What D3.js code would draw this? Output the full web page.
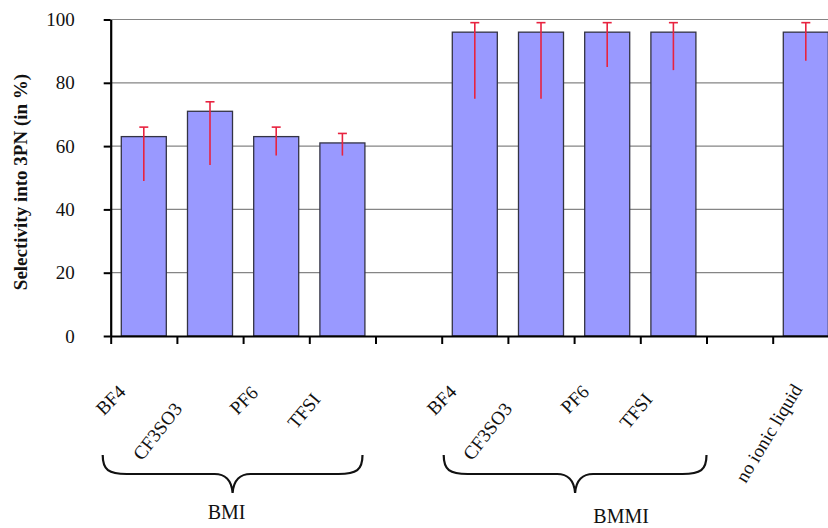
<!DOCTYPE html>
<html>
<head>
<meta charset="utf-8">
<script src="https://cdn.jsdelivr.net/npm/d3@7"></script>
<style>
	body { margin: 0; background: #fff; }
	svg { display: block; font-family: 'Liberation Serif', 'Times New Roman', serif; }
</style>
</head>
<body>
<div class="chart"></div>
<script>
// catégories (les vides séparent les groupes)
const categories = ['BMI-BF4', 'BMI-CF3SO3', 'BMI-PF6', 'BMI-TFSI', 'gap1', 'BMMI-BF4', 'BMMI-CF3SO3', 'BMMI-PF6', 'BMMI-TFSI', 'gap2', 'none'];
const tickLabels = ['BF4', 'CF3SO3', 'PF6', 'TFSI', '', 'BF4', 'CF3SO3', 'PF6', 'TFSI', '', 'no ionic liquid'];
const selectivity = [63, 71, 63, 61, null, 96, 96, 96, 96, null, 96];
const errHigh = [66, 74, 66, 64, null, 99, 99, 99, 99, null, 99];
const errLow = [49, 54, 57, 57, null, 75, 75, 85, 84, null, 87];
const yTicks = [0, 20, 40, 60, 80, 100];
const groups = [
	{ name: 'BMI', first: 'BMI-BF4', last: 'BMI-TFSI' },
	{ name: 'BMMI', first: 'BMMI-BF4', last: 'BMMI-TFSI' },
];

const width = 828;
const height = 528;
const plotLeft = 110.7;
const step = 66.2;
const plotTop = 19.5;
const plotBottom = 336;

// rotation / décalage des étiquettes (placées à la main dans l'original)
const labelAngle = [45, 52, 45, 50, 0, 45, 52, 45, 50, 0, 59];
const labelDx = [-17, -27, -17, -21, 0, -17, -28, -17, -20, 0, -3];
const labelDy = [57, 73, 58, 64, 0, 57, 73, 57, 64, 0, 53];

const svg = d3.select('.chart').append('svg').attr('width', width).attr('height', height);

const x = d3
	.scaleBand()
	.domain(categories)
	.range([plotLeft, plotLeft + step * categories.length])
	.paddingInner(0.32)
	.paddingOuter(0.16);
const xIdx = d3.scaleLinear().domain([0, categories.length]).range([plotLeft, plotLeft + step * categories.length]);
const y = d3.scaleLinear().domain([0, 100]).range([plotBottom, plotTop]);

// grille
svg
	.append('g')
	.selectAll('line')
	.data(yTicks.filter(d => d > 0))
	.enter()
	.append('line')
	.attr('x1', plotLeft)
	.attr('x2', width)
	.attr('y1', d => y(d))
	.attr('y2', d => y(d))
	.attr('stroke', '#858585')
	.attr('stroke-width', 1.2);

const data = categories.map((c, i) => ({ id: c, v: selectivity[i], hi: errHigh[i], lo: errLow[i] })).filter(d => d.v != null);

svg
	.append('g')
	.selectAll('rect')
	.data(data)
	.enter()
	.append('rect')
	.attr('x', d => x(d.id))
	.attr('y', d => y(d.v))
	.attr('width', x.bandwidth())
	.attr('height', d => y(0) - y(d.v))
	.attr('fill', '#9999ff')
	.attr('stroke', '#333344')
	.attr('stroke-width', 1.3);

// barres d'erreur
const err = svg.append('g').attr('stroke', '#e8233f').attr('stroke-width', 1.6);
data.forEach(d => {
	const cx = x(d.id) + x.bandwidth() / 2;
	err.append('line').attr('x1', cx).attr('x2', cx).attr('y1', y(d.hi)).attr('y2', y(d.lo));
	err.append('line').attr('x1', cx - 4.5).attr('x2', cx + 4.5).attr('y1', y(d.hi)).attr('y2', y(d.hi));
});

// axes
const yAxis = svg
	.append('g')
	.attr('transform', `translate(${plotLeft},0)`)
	.call(d3.axisLeft(y).tickValues(yTicks).tickSize(7).tickPadding(29).tickSizeOuter(0));
yAxis.select('.domain').attr('stroke', '#000').attr('stroke-width', 2.2);
yAxis.selectAll('.tick line').attr('stroke', '#000').attr('stroke-width', 2);
yAxis.selectAll('.tick text').attr('font-family', 'Liberation Serif').attr('font-size', 19).attr('fill', '#111');

const xAxis = svg
	.append('g')
	.attr('transform', `translate(0,${plotBottom})`)
	.call(d3.axisBottom(xIdx).tickValues(d3.range(0, categories.length + 1)).tickSize(8).tickSizeOuter(0).tickFormat(''));
xAxis.select('.domain').attr('stroke', '#000').attr('stroke-width', 2.2);
xAxis.selectAll('.tick line').attr('stroke', '#000').attr('stroke-width', 2);

svg
	.append('text')
	.attr('transform', `translate(27,182) rotate(-90)`)
	.attr('text-anchor', 'middle')
	.attr('font-weight', 'bold')
	.attr('font-size', 19)
	.attr('fill', '#111')
	.text('Selectivity into 3PN (in %)');

// étiquettes des catégories
svg
	.append('g')
	.selectAll('text')
	.data(categories.map((c, i) => ({ id: c, i })).filter(d => tickLabels[d.i] !== ''))
	.enter()
	.append('text')
	.attr('transform', d => {
		const cx = x(d.id) + x.bandwidth() / 2 + labelDx[d.i];
		return `translate(${cx},${plotBottom + labelDy[d.i]}) rotate(${-labelAngle[d.i]})`;
	})
	.attr('text-anchor', 'end')
	.attr('font-size', 19)
	.attr('fill', '#111')
	.text(d => tickLabels[d.i]);

// accolades
const braceShift = [
	{ l: -8, r: -13, label: -6 },
	{ l: 2, r: 0, label: 46 },
];
const braceTop = 455;
const braceMid = 474;
const braceTip = 493;
groups.forEach((g, k) => {
	const x0 = x(g.first) - x.step() * 0.16 + braceShift[k].l;
	const x1 = x(g.last) + x.bandwidth() + x.step() * 0.16 + braceShift[k].r;
	const m = (x0 + x1) / 2;
	const p = d3.path();
	p.moveTo(x0, braceTop);
	p.bezierCurveTo(x0, braceMid - 4, x0 + 6, braceMid, x0 + 24, braceMid);
	p.lineTo(m - 18, braceMid);
	p.bezierCurveTo(m - 8, braceMid, m - 1, braceMid + 6, m, braceTip);
	p.bezierCurveTo(m + 1, braceMid + 6, m + 8, braceMid, m + 18, braceMid);
	p.lineTo(x1 - 24, braceMid);
	p.bezierCurveTo(x1 - 6, braceMid, x1, braceMid - 4, x1, braceTop);
	svg.append('path').attr('d', p.toString()).attr('fill', 'none').attr('stroke', '#111').attr('stroke-width', 2.2);
	svg
		.append('text')
		.attr('x', m + braceShift[k].label)
		.attr('y', k === 0 ? 519 : 523)
		.attr('text-anchor', 'middle')
		.attr('font-size', 20)
		.attr('fill', '#111')
		.text(g.name);
});
</script>
</body>
</html>
